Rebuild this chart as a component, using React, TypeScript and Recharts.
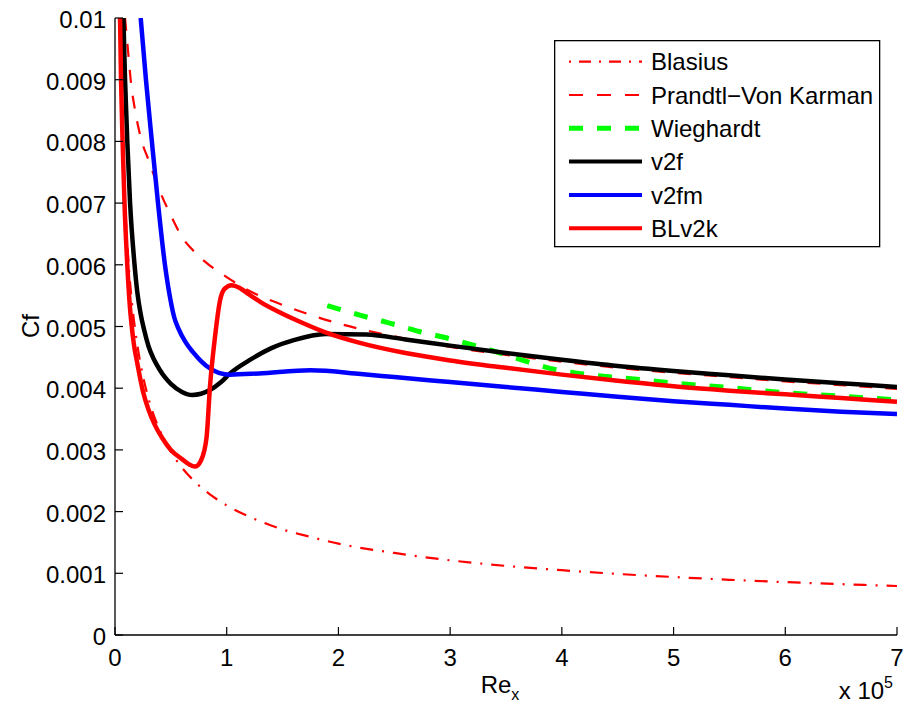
import React from 'react';
import { LineChart, Line, XAxis, YAxis, Legend } from 'recharts';

// ---------- data (Re_x in units of 1e5, Cf) ----------
const xTicks = [0, 1, 2, 3, 4, 5, 6, 7];
const yTicks = [0, 0.001, 0.002, 0.003, 0.004, 0.005, 0.006, 0.007, 0.008, 0.009, 0.01];
const yTickLabels = ['0', '0.001', '0.002', '0.003', '0.004', '0.005', '0.006', '0.007', '0.008', '0.009', '0.01'];

const blasius = [
  { re: 0.044, cf: 0.01001 }, { re: 0.05, cf: 0.00939 }, { re: 0.06, cf: 0.00857 }, { re: 0.07, cf: 0.00794 },
  { re: 0.085, cf: 0.0072 }, { re: 0.1, cf: 0.00664 }, { re: 0.125, cf: 0.00594 }, { re: 0.15, cf: 0.00542 },
  { re: 0.2, cf: 0.0047 }, { re: 0.25, cf: 0.0042 }, { re: 0.3, cf: 0.00383 }, { re: 0.4, cf: 0.00332 },
  { re: 0.5, cf: 0.00297 }, { re: 0.6, cf: 0.00271 }, { re: 0.7, cf: 0.00251 }, { re: 0.85, cf: 0.00228 },
  { re: 1, cf: 0.0021 }, { re: 1.25, cf: 0.00188 }, { re: 1.5, cf: 0.00171 }, { re: 1.75, cf: 0.00159 },
  { re: 2, cf: 0.00148 }, { re: 2.5, cf: 0.00133 }, { re: 3, cf: 0.00121 }, { re: 3.5, cf: 0.00112 },
  { re: 4, cf: 0.00105 }, { re: 4.5, cf: 0.00099 }, { re: 5, cf: 0.00094 }, { re: 5.5, cf: 0.000895 },
  { re: 6, cf: 0.000857 }, { re: 6.5, cf: 0.000824 }, { re: 7, cf: 0.000794 },
];

const prandtl = [
  { re: 0.09, cf: 0.01 }, { re: 0.12, cf: 0.0094 }, { re: 0.14, cf: 0.009 }, { re: 0.18, cf: 0.0085 },
  { re: 0.24, cf: 0.008 }, { re: 0.3, cf: 0.0077 }, { re: 0.4, cf: 0.0072 }, { re: 0.5, cf: 0.0068 },
  { re: 0.6, cf: 0.00645 }, { re: 0.7, cf: 0.00623 }, { re: 0.8, cf: 0.00606 }, { re: 1, cf: 0.0058 },
  { re: 1.2, cf: 0.00558 }, { re: 1.5, cf: 0.00535 }, { re: 2, cf: 0.00505 }, { re: 2.5, cf: 0.00484 },
  { re: 3, cf: 0.00467 }, { re: 3.5, cf: 0.00454 }, { re: 4, cf: 0.00443 }, { re: 4.5, cf: 0.00433 },
  { re: 5, cf: 0.00425 }, { re: 5.5, cf: 0.00418 }, { re: 6, cf: 0.00411 }, { re: 6.5, cf: 0.00405 },
  { re: 7, cf: 0.00399 },
];

const wieghardt = [
  { re: 1.9, cf: 0.00534 }, { re: 2.2, cf: 0.00518 }, { re: 2.45, cf: 0.00506 }, { re: 2.7, cf: 0.00493 },
  { re: 3.0, cf: 0.0048 }, { re: 3.2, cf: 0.0047 }, { re: 3.45, cf: 0.00457 }, { re: 3.69, cf: 0.00443 },
  { re: 3.95, cf: 0.0043 }, { re: 4.19, cf: 0.00423 }, { re: 4.46, cf: 0.00418 }, { re: 4.71, cf: 0.00414 },
  { re: 4.96, cf: 0.00409 }, { re: 5.5, cf: 0.00401 }, { re: 5.97, cf: 0.00393 }, { re: 6.5, cf: 0.00387 },
  { re: 7, cf: 0.00381 },
];

const v2f = [
  { re: 0.075, cf: 0.01 }, { re: 0.09, cf: 0.009 }, { re: 0.11, cf: 0.008 }, { re: 0.135, cf: 0.007 },
  { re: 0.175, cf: 0.006 }, { re: 0.2, cf: 0.00555 }, { re: 0.23, cf: 0.0052 }, { re: 0.26, cf: 0.00495 },
  { re: 0.3, cf: 0.00468 }, { re: 0.35, cf: 0.00446 }, { re: 0.4, cf: 0.0043 }, { re: 0.45, cf: 0.00417 },
  { re: 0.5, cf: 0.00407 }, { re: 0.6, cf: 0.00394 }, { re: 0.69, cf: 0.00389 }, { re: 0.77, cf: 0.00391 },
  { re: 0.85, cf: 0.00397 }, { re: 0.95, cf: 0.0041 }, { re: 1.03, cf: 0.00424 }, { re: 1.2, cf: 0.00445 },
  { re: 1.4, cf: 0.00465 }, { re: 1.6, cf: 0.00478 }, { re: 1.886, cf: 0.00488 }, { re: 2.25, cf: 0.00487 },
  { re: 2.6, cf: 0.00479 }, { re: 3.0, cf: 0.00469 }, { re: 3.5, cf: 0.00457 }, { re: 4.0, cf: 0.00446 },
  { re: 4.5, cf: 0.00436 }, { re: 5.0, cf: 0.00428 }, { re: 5.5, cf: 0.00421 }, { re: 6.0, cf: 0.00414 },
  { re: 6.5, cf: 0.00408 }, { re: 7, cf: 0.00402 },
];

const v2fm = [
  { re: 0.23, cf: 0.01 }, { re: 0.277, cf: 0.009 }, { re: 0.33, cf: 0.008 }, { re: 0.385, cf: 0.007 },
  { re: 0.447, cf: 0.006 }, { re: 0.5, cf: 0.0054 }, { re: 0.53, cf: 0.00515 }, { re: 0.567, cf: 0.00497 },
  { re: 0.63, cf: 0.00475 }, { re: 0.7, cf: 0.00458 }, { re: 0.77, cf: 0.00444 }, { re: 0.85, cf: 0.00432 },
  { re: 0.93, cf: 0.00425 }, { re: 1.03, cf: 0.00422 }, { re: 1.29, cf: 0.00424 }, { re: 1.75, cf: 0.00429 },
  { re: 2.2, cf: 0.00423 }, { re: 2.5, cf: 0.00418 }, { re: 3.0, cf: 0.0041 }, { re: 3.5, cf: 0.00402 },
  { re: 4.0, cf: 0.00394 }, { re: 4.5, cf: 0.00386 }, { re: 5.0, cf: 0.00379 }, { re: 5.5, cf: 0.00373 },
  { re: 6.0, cf: 0.00367 }, { re: 6.5, cf: 0.00362 }, { re: 7, cf: 0.00358 },
];

const blv2k = [
  { re: 0.045, cf: 0.01 }, { re: 0.054, cf: 0.009 }, { re: 0.068, cf: 0.008 }, { re: 0.085, cf: 0.007 },
  { re: 0.11, cf: 0.006 }, { re: 0.13, cf: 0.0054 }, { re: 0.15, cf: 0.005 }, { re: 0.17, cf: 0.0047 },
  { re: 0.2, cf: 0.0044 }, { re: 0.25, cf: 0.00395 }, { re: 0.3, cf: 0.00365 }, { re: 0.35, cf: 0.00343 },
  { re: 0.42, cf: 0.0032 }, { re: 0.5, cf: 0.003 }, { re: 0.6, cf: 0.00285 }, { re: 0.66, cf: 0.00277 },
  { re: 0.716, cf: 0.00273 }, { re: 0.77, cf: 0.00283 }, { re: 0.82, cf: 0.00321 }, { re: 0.85, cf: 0.00402 },
  { re: 0.895, cf: 0.00483 }, { re: 0.94, cf: 0.00542 }, { re: 0.98, cf: 0.00561 }, { re: 1.045, cf: 0.00567 },
  { re: 1.12, cf: 0.00562 }, { re: 1.2, cf: 0.00552 }, { re: 1.3, cf: 0.0054 }, { re: 1.45, cf: 0.00525 },
  { re: 1.65, cf: 0.00508 }, { re: 1.89, cf: 0.0049 }, { re: 2.2, cf: 0.00473 }, { re: 2.6, cf: 0.00457 },
  { re: 3.0, cf: 0.00445 }, { re: 3.5, cf: 0.00433 }, { re: 4.0, cf: 0.00422 }, { re: 4.5, cf: 0.00412 },
  { re: 5.0, cf: 0.00403 }, { re: 5.5, cf: 0.00396 }, { re: 6.0, cf: 0.0039 }, { re: 6.5, cf: 0.00384 },
  { re: 7, cf: 0.00378 },
];

const seriesNames = ['Blasius', 'Prandtl\u2212Von Karman', 'Wieghardt', 'v2f', 'v2fm', 'BLv2k'];

// ---------- styles ----------
const FONT = '"Liberation Sans", Arial, Helvetica, sans-serif';
const FS = 24;
const X_MARGIN = 22;
const Y_MARGIN = 9;
const TICK_LEN = 8;

const seriesData = [blasius, prandtl, wieghardt, v2f, v2fm, blv2k];
const seriesStyle = [
  { stroke: '#ff0000', width: 2.2, dash: '13 9 2 9', legendDash: '2 8 12 8', legendWidth: 2.2 },
  { stroke: '#ff0000', width: 2.2, dash: '13 13', legendDash: '14 14', legendWidth: 2.2 },
  { stroke: '#00ff00', width: 5, dash: '14 14', legendDash: '14 14', legendWidth: 5 },
  { stroke: '#000000', width: 4.5, dash: undefined, legendDash: undefined, legendWidth: 4 },
  { stroke: '#0000ff', width: 4.5, dash: undefined, legendDash: undefined, legendWidth: 4 },
  { stroke: '#ff0000', width: 4.5, dash: undefined, legendDash: undefined, legendWidth: 4 },
];

const BottomTick = (p: any) => {
  const { x, y, payload } = p;
  const ay = y - X_MARGIN;
  return (
    <g>
      <line x1={x} x2={x} y1={ay} y2={ay - TICK_LEN} stroke="#000" strokeWidth={1.2} />
      <text x={x} y={y} dy="0.36em" textAnchor="middle" fontFamily={FONT} fontSize={FS} fill="#000">
        {payload.value}
      </text>
    </g>
  );
};

const TopTick = (p: any) => {
  const { x, y } = p;
  return <line x1={x} x2={x} y1={y} y2={y + TICK_LEN} stroke="#000" strokeWidth={1.2} />;
};

const LeftTick = (p: any) => {
  const { x, y, payload } = p;
  const ax = x + Y_MARGIN;
  const idx = yTicks.findIndex((v) => Math.abs(v - payload.value) < 1e-9);
  return (
    <g>
      <line x1={ax} x2={ax + TICK_LEN} y1={y} y2={y} stroke="#000" strokeWidth={1.2} />
      <text x={x} y={y} dy="0.42em" textAnchor="end" fontFamily={FONT} fontSize={FS} fill="#000">
        {idx >= 0 ? yTickLabels[idx] : String(payload.value)}
      </text>
    </g>
  );
};

const RightTick = (p: any) => {
  const { x, y } = p;
  return <line x1={x - TICK_LEN} x2={x} y1={y} y2={y} stroke="#000" strokeWidth={1.2} />;
};

const XLabel = () => (
  <g>
    <text x={500} y={693} textAnchor="middle" fontFamily={FONT} fontSize={FS} fill="#000">
      <tspan>Re</tspan>
      <tspan fontSize={16} dy={7}>x</tspan>
    </text>
    <text x={893} y={699} textAnchor="end" fontFamily={FONT} fontSize={FS} fill="#000">
      <tspan>x 10</tspan>
      <tspan fontSize={16} dy={-11}>5</tspan>
    </text>
  </g>
);

const YLabel = () => (
  <text
    transform="translate(30,326) rotate(-90)"
    textAnchor="middle"
    dy="0.36em"
    fontFamily={FONT}
    fontSize={FS}
    fill="#000"
  >
    Cf
  </text>
);

const LegendBox = () => (
  <svg width={328} height={209} style={{ display: 'block' }}>
    <rect x={0.65} y={0.65} width={325} height={206} fill="#fff" stroke="#000" strokeWidth={1.3} />
    {seriesNames.map((n, i) => {
      const cy = 21.7 + i * 33.3;
      const s = seriesStyle[i];
      return (
        <g key={n}>
          <line
            x1={15}
            x2={88}
            y1={cy}
            y2={cy}
            stroke={s.stroke}
            strokeWidth={s.legendWidth}
            strokeDasharray={s.legendDash}
          />
          <text x={97} y={cy} dy="0.36em" fontFamily={FONT} fontSize={FS} fill="#000">
            {n}
          </text>
        </g>
      );
    })}
  </svg>
);

export default function App() {
  return (
    <div style={{ position: 'absolute', left: 0, top: 0, width: 904, height: 709, background: '#fff' }}>
      <LineChart width={904} height={709} margin={{ top: 18, right: 7, bottom: 0, left: 0 }}>
        <XAxis
          xAxisId="bottom"
          dataKey="re"
          type="number"
          domain={[0, 7]}
          ticks={xTicks}
          interval={0}
          allowDataOverflow
          orientation="bottom"
          height={74}
          tickSize={0}
          tickMargin={X_MARGIN}
          tickLine={false}
          tick={<BottomTick />}
          axisLine={{ stroke: '#000', strokeWidth: 1.3 }}
          label={{ content: () => <XLabel /> }}
        />
        <XAxis
          xAxisId="top"
          dataKey="re"
          type="number"
          domain={[0, 7]}
          ticks={xTicks}
          interval={0}
          allowDataOverflow
          orientation="top"
          height={0}
          tickSize={0}
          tickMargin={0}
          tickLine={false}
          tick={<TopTick />}
          axisLine={{ stroke: '#000', strokeWidth: 1.3 }}
        />
        <YAxis
          yAxisId="left"
          type="number"
          domain={[0, 0.01]}
          ticks={yTicks}
          interval={0}
          allowDataOverflow
          orientation="left"
          width={115}
          tickSize={0}
          tickMargin={Y_MARGIN}
          tickLine={false}
          tick={<LeftTick />}
          axisLine={{ stroke: '#000', strokeWidth: 1.3 }}
          label={{ content: () => <YLabel /> }}
        />
        <YAxis
          yAxisId="right"
          type="number"
          domain={[0, 0.01]}
          ticks={yTicks}
          interval={0}
          allowDataOverflow
          orientation="right"
          width={0}
          tickSize={0}
          tickMargin={0}
          tickLine={false}
          tick={<RightTick />}
          axisLine={{ stroke: '#000', strokeWidth: 1.3 }}
        />
        <Legend
          layout="vertical"
          align="center"
          verticalAlign="middle"
          wrapperStyle={{ position: 'absolute', left: 554, top: 40, width: 328, height: 209, margin: 0 }}
          content={() => <LegendBox />}
        />
        {seriesData.map((d, i) => (
          <Line
            key={seriesNames[i]}
            name={seriesNames[i]}
            data={d}
            dataKey="cf"
            xAxisId="bottom"
            yAxisId="left"
            type="monotone"
            dot={false}
            activeDot={false}
            stroke={seriesStyle[i].stroke}
            strokeWidth={seriesStyle[i].width}
            strokeDasharray={seriesStyle[i].dash}
            strokeLinejoin="round"
            isAnimationActive={false}
          />
        ))}
      </LineChart>
    </div>
  );
}
